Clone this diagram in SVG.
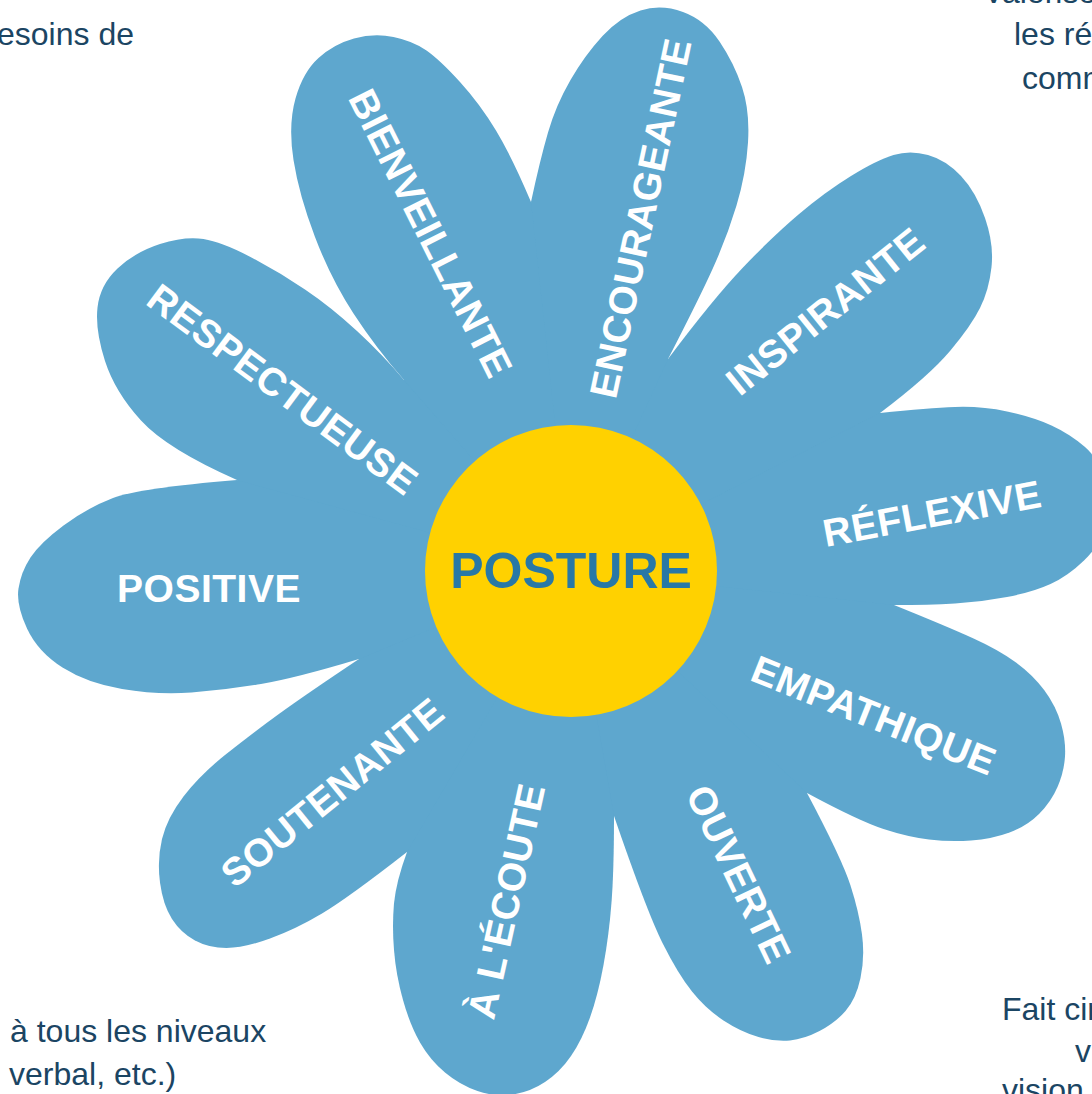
<svg xmlns="http://www.w3.org/2000/svg" width="1092" height="1094" viewBox="0 0 1092 1094">
<style>
.petal{fill:#5ea7ce;}
.lbl{font-family:"Liberation Sans",Arial,sans-serif;font-weight:bold;font-size:39px;fill:#ffffff;text-anchor:middle;letter-spacing:0.5px;}
.side{font-family:"Liberation Sans",Arial,sans-serif;font-size:32px;fill:#1b4563;}
.core{fill:#ffd100;}
.title{font-family:"Liberation Sans",Arial,sans-serif;font-weight:bold;font-size:50px;fill:#2878a6;text-anchor:middle;}
</style>
<rect width="1092" height="1094" fill="#ffffff"/>
<g id="side-texts">
<text class="side" x="134" y="45" text-anchor="end">esoins de</text>
<text class="side" x="983" y="3">Valorise</text>
<text class="side" x="1014" y="45">les ré</text>
<text class="side" x="1022" y="89">comm</text>
<text class="side" x="10" y="1042">à tous les niveaux</text>
<text class="side" x="9" y="1085">verbal, etc.)</text>
<text class="side" x="1002" y="1020">Fait cir</text>
<text class="side" x="1075" y="1062">v</text>
<text class="side" x="1002" y="1101">vision</text>
</g>
<g id="connectors"></g>
<g id="flower-base">
<polygon class="petal" points="531,202 668,359 880,413 894,605 807,793 614,816 407,852 359,659 237,480 404,380"/>
</g>
<g id="petal-encourageante">
<path class="petal" d="M531,202 Q540,160 548,132.5 Q556,105 570.5,80 Q585,55 602.5,36 Q620,17 640.5,10.5 Q661,4 683,12 Q705,20 719.5,41.5 Q734,63 742,87 Q750,111 748,142.5 Q746,174 736.5,205.5 Q727,237 713,268 Q699,299 668,359 L571,571Z"/>
<text class="lbl" transform="translate(640,218) rotate(-78)" x="0" y="14">ENCOURAGEANTE</text>
</g>
<g id="petal-inspirante">
<path class="petal" d="M668,359 Q713,299 742.5,268 Q772,237 798.5,214.5 Q825,192 851,176 Q877,160 893.5,155 Q910,150 928,155 Q946,160 961,176 Q976,192 985,218 Q994,244 991.5,267 Q989,290 980,308 Q971,326 950,351 Q929,376 880,413 L571,571Z"/>
<text class="lbl" transform="translate(825,311) rotate(-38.7)" x="0" y="14">INSPIRANTE</text>
</g>
<g id="petal-reflexive">
<path class="petal" d="M880,413 Q929,408 955,407 Q981,406 1007,411.5 Q1033,417 1051.5,425.5 Q1070,434 1085,447 Q1100,460 1106,482.5 Q1112,505 1106,525 Q1100,545 1084,560.5 Q1068,576 1050.5,584 Q1033,592 1007,597 Q981,602 955,603.5 Q929,605 894,605 L571,571Z"/>
<text class="lbl" transform="translate(932,513) rotate(-10.5)" x="0" y="14">RÉFLEXIVE</text>
</g>
<g id="petal-empathique">
<path class="petal" d="M894,605 Q946,626 972.5,638 Q999,650 1016,662.5 Q1033,675 1044.5,690.5 Q1056,706 1061,723.5 Q1066,741 1065,756.5 Q1064,772 1057.5,787 Q1051,802 1039,814 Q1027,826 1009.5,832.5 Q992,839 971,840.5 Q950,842 929,839.5 Q908,837 883.5,829 Q859,821 807,793 L571,571Z"/>
<text class="lbl" transform="translate(874,715) rotate(21.8)" x="0" y="14">EMPATHIQUE</text>
</g>
<g id="petal-ouverte">
<path class="petal" d="M807,793 Q842,859 850.5,885.5 Q859,912 862,934.5 Q865,957 860.5,978 Q856,999 845.5,1011 Q835,1023 819.5,1031 Q804,1039 790,1040.5 Q776,1042 758.5,1037 Q741,1032 723.5,1020.5 Q706,1009 692,991.5 Q678,974 662.5,943 Q647,912 614,816 L571,571Z"/>
<text class="lbl" transform="translate(739,874) rotate(64.4)" x="0" y="14">OUVERTE</text>
</g>
<g id="petal-a-l-ecoute">
<path class="petal" d="M614,816 Q614,870 611.5,902.5 Q609,935 603.5,965 Q598,995 590,1017.5 Q582,1040 571,1056 Q560,1072 545,1082 Q530,1092 512.5,1094.5 Q495,1097 477.5,1091 Q460,1085 445,1072.5 Q430,1060 420,1042.5 Q410,1025 403,1000 Q396,975 394,950 Q392,925 394,903.5 Q396,882 407,852 L571,571Z"/>
<text class="lbl" transform="translate(506,901) rotate(-77.5)" x="0" y="14">À L'ÉCOUTE</text>
</g>
<g id="petal-soutenante">
<path class="petal" d="M407,852 Q348,898 322,913.5 Q296,929 270,938.5 Q244,948 226.5,948 Q209,948 195,940.5 Q181,933 172,919 Q163,905 160,882.5 Q157,860 162,839 Q167,818 183.5,796.5 Q200,775 225,755 Q250,735 277.5,715 Q305,695 359,659 L571,571Z"/>
<text class="lbl" transform="translate(332,792) rotate(-39.1)" x="0" y="14">SOUTENANTE</text>
</g>
<g id="petal-positive">
<path class="petal" d="M359,659 Q296,678 261,684 Q226,690 191.5,692.5 Q157,695 122,689 Q87,683 62.5,667.5 Q38,652 27,628.5 Q16,605 18.5,588.5 Q21,572 30.5,557.5 Q40,543 63.5,525.5 Q87,508 113,498 Q139,488 237,480 L571,571Z"/>
<text class="lbl" transform="translate(209,588)" x="0" y="14">POSITIVE</text>
</g>
<g id="petal-respectueuse">
<path class="petal" d="M237,480 Q167,449 141,420.5 Q115,392 105,361 Q95,330 97.5,307.5 Q100,285 117.5,268.5 Q135,252 160,244 Q185,236 203.5,239 Q222,242 250.5,257 Q279,272 305,289.5 Q331,307 357,331 Q383,355 404,380 L571,571Z"/>
<text class="lbl" transform="translate(283,389) rotate(36.6)" x="0" y="14">RESPECTUEUSE</text>
</g>
<g id="petal-bienveillante">
<path class="petal" d="M404,380 Q376,348 353.5,313.5 Q331,279 315,237 Q299,195 293.5,160 Q288,125 295.5,98.5 Q303,72 318.5,58 Q334,44 354,38.5 Q374,33 393.5,37 Q413,41 426.5,50.5 Q440,60 460,82 Q480,104 496,130.5 Q512,157 531,202 L571,571Z"/>
<text class="lbl" transform="translate(431,233) rotate(63.3)" x="0" y="14">BIENVEILLANTE</text>
</g>
<g id="center-posture">
<circle class="core" cx="571" cy="571" r="146"/>
<text class="title" x="571" y="588">POSTURE</text>
</g>
</svg>
